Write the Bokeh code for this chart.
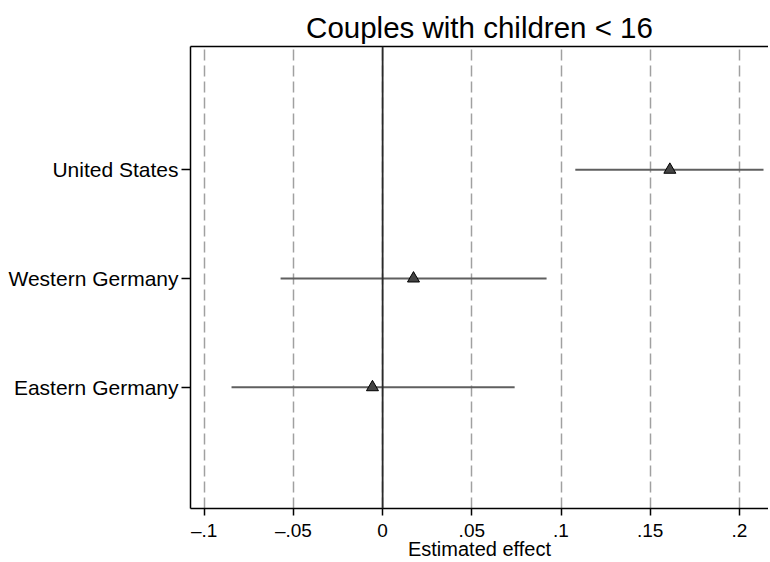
from bokeh.plotting import figure
from bokeh.models import FixedTicker, LinearAxis, Span, Range1d
from bokeh.embed import file_html
from bokeh.resources import INLINE

countries = ["United States", "Western Germany", "Eastern Germany"]
ypos = [3, 2, 1]
estimate = [0.161, 0.0173, -0.0057]
ci_low = [0.108, -0.0572, -0.0847]
ci_high = [0.2135, 0.0919, 0.074]
xticks = [-0.1, -0.05, 0, 0.05, 0.1, 0.15, 0.2]
xtick_labels = ["\u2013.1", "\u2013.05", "0", ".05", ".1", ".15", ".2"]

FONT = "Liberation Sans"

p = figure(width=768, height=562, output_backend="svg", toolbar_location=None,
           x_range=Range1d(-0.1077, 0.2163), y_range=Range1d(-0.115, 4.134),
           title="Couples with children < 16",
           min_border_left=190, min_border_right=0, min_border_bottom=0, min_border_top=46)

p.title.text_font = FONT
p.title.text_font_size = "29.5px"
p.title.text_font_style = "normal"
p.title.align = "center"
p.title.text_color = "black"
p.title.standoff = 5

p.outline_line_color = None
p.background_fill_color = "white"

# x grid dashed
p.xgrid.ticker = FixedTicker(ticks=xticks)
p.xgrid.grid_line_color = "#a0a0a0"
p.xgrid.grid_line_width = 1.5
p.xgrid.grid_line_dash = "11 5"
p.ygrid.grid_line_color = None

# axes
xa = p.xaxis[0]
xa.ticker = FixedTicker(ticks=xticks)
xa.major_label_overrides = {t: l for t, l in zip(xticks, xtick_labels)}
xa.axis_label = "Estimated effect"
xa.axis_label_text_font = FONT
xa.axis_label_text_font_size = "20px"
xa.axis_label_text_font_style = "normal"
xa.axis_label_text_color = "black"
xa.axis_label_standoff = -6
xa.major_label_text_font = FONT
xa.major_label_text_font_size = "19px"
xa.major_label_text_color = "black"
xa.major_label_standoff = 4
xa.major_tick_out = 7
xa.major_tick_in = 0
xa.minor_tick_line_color = None
xa.axis_line_color = "black"
xa.axis_line_width = 1.5
xa.major_tick_line_width = 1.5

ya = p.yaxis[0]
ya.ticker = FixedTicker(ticks=ypos)
ya.major_label_overrides = {y: c for y, c in zip(ypos, countries)}
ya.major_label_text_font = FONT
ya.major_label_text_font_size = "21px"
ya.major_label_text_color = "black"
ya.major_label_standoff = 3
ya.major_tick_out = 9
ya.major_tick_in = 0
ya.minor_tick_line_color = None
ya.axis_line_color = "black"
ya.axis_line_width = 1.5
ya.major_tick_line_width = 1.5

top = LinearAxis(ticker=FixedTicker(ticks=[]), major_label_text_font_size="0px",
                 major_label_standoff=0, major_tick_line_color=None,
                 minor_tick_line_color=None, axis_line_color="black", axis_line_width=1.5)
p.add_layout(top, "above")

zero = Span(location=0, dimension="height", line_color="#2a2a2a", line_width=1.8)
p.add_layout(zero)

p.segment(x0=ci_low, x1=ci_high, y0=ypos, y1=ypos, line_color="#5f5f5f", line_width=2)
p.scatter(x=estimate, y=ypos, marker="triangle", size=12, fill_color="#444444",
          line_color="black", line_width=1)

open("out.html", "w").write(file_html(p, INLINE))
